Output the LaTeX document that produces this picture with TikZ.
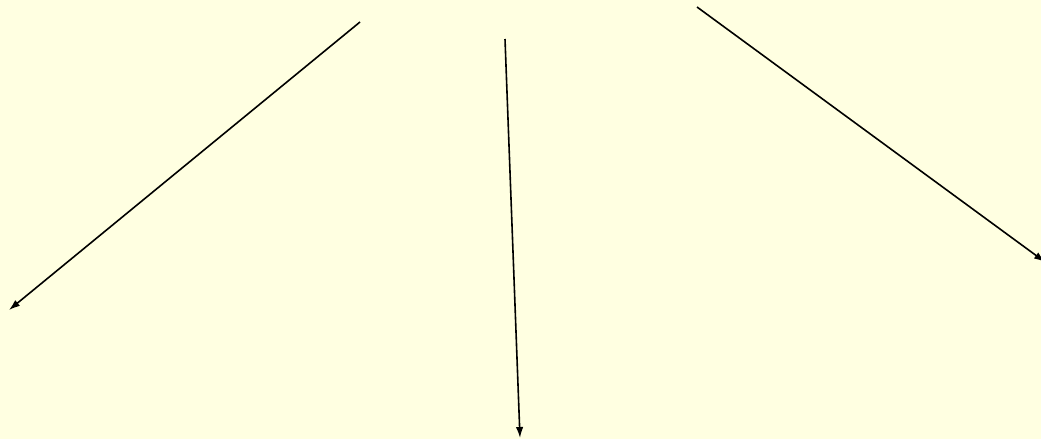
\documentclass[tikz,border=0pt]{standalone}
\usetikzlibrary{arrows.meta}
\definecolor{bgyellow}{RGB}{255,255,225}
\begin{document}
\begin{tikzpicture}[x=1pt,y=-1pt,
  arrowline/.style={draw=black,line width=1.6pt,-{Latex[length=11pt,width=7.5pt]}}]
\fill[bgyellow] (0,0) rectangle (1041,439);
\useasboundingbox (0,0) rectangle (1041,439);
\coordinate (s1) at (360,22);
\coordinate (e1) at (9,310);
\coordinate (s2) at (505,39);
\coordinate (e2) at (520,438);
\coordinate (s3) at (697,7);
\coordinate (e3) at (1045,262);
\draw[arrowline] (s1) -- (e1);
\draw[arrowline] (s2) -- (e2);
\draw[arrowline] (s3) -- (e3);
\end{tikzpicture}
\end{document}
